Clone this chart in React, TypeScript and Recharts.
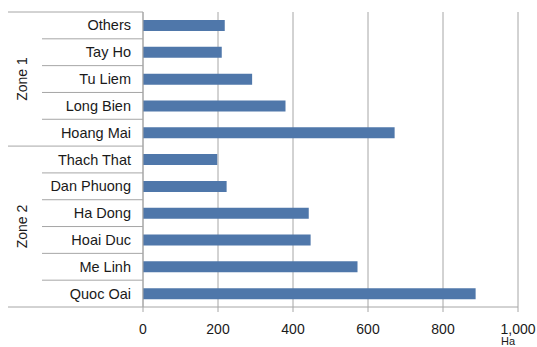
import { BarChart, Bar, XAxis, YAxis, CartesianGrid } from 'recharts'

const districts = [
  'Others', 'Tay Ho', 'Tu Liem', 'Long Bien', 'Hoang Mai',
  'Thach That', 'Dan Phuong', 'Ha Dong', 'Hoai Duc', 'Me Linh', 'Quoc Oai',
]
const areas = [218, 210, 291, 380, 671, 198, 223, 442, 447, 572, 887]
const zoneNames = ['Zone 1', 'Zone 2']
const zoneSizes = [5, 6]
const xTicks = [0, 200, 400, 600, 800, 1000]
const unitLabel = 'Ha'

const W = 537
const H = 347
const TOP = 12
const BOTTOM = 307
const AXIS_X = 143
const FONT = '"Liberation Sans", Arial, sans-serif'
const LINE = '#a6a6a6'
const BAND = (BOTTOM - TOP) / districts.length

const data = districts.map((name, i) => ({ name, area: areas[i] }))

// index of first row of each zone
const zoneStarts = zoneSizes.map((_, z) => zoneSizes.slice(0, z).reduce((a, b) => a + b, 0))

function CategoryTick(props: any) {
  const { y, payload } = props
  const idx = payload.index
  const top = y - BAND / 2
  const zi = zoneStarts.indexOf(idx)
  const isLast = idx === districts.length - 1
  return (
    <g>
      <line x1={zi >= 0 ? 8 : 42} x2={AXIS_X} y1={top} y2={top} stroke={LINE} strokeWidth={1} />
      {isLast && (
        <line x1={8} x2={AXIS_X} y1={top + BAND} y2={top + BAND} stroke={LINE} strokeWidth={1} />
      )}
      <text x={AXIS_X - 12} y={y} dy="0.35em" textAnchor="end" fontSize={14.5} fill="#1a1a1a" fontFamily={FONT}>
        {payload.value}
      </text>
      {zi >= 0 && (
        <text
          x={22}
          y={top + (zoneSizes[zi] * BAND) / 2}
          transform={`rotate(-90 22 ${top + (zoneSizes[zi] * BAND) / 2})`}
          dy="0.35em"
          textAnchor="middle"
          fontSize={14}
          fill="#1a1a1a"
          fontFamily={FONT}
        >
          {zoneNames[zi]}
        </text>
      )}
    </g>
  )
}

function ValueTick(props: any) {
  const { x, y, payload } = props
  const label = payload.value.toLocaleString('en-US')
  const isLast = payload.value === xTicks[xTicks.length - 1]
  return (
    <g>
      <text x={x} y={y} dy="0.71em" textAnchor="middle" fontSize={14} fill="#1a1a1a" fontFamily={FONT}>
        {label}
      </text>
      {isLast && (
        <text x={x - 17} y={y + 13} dy="0.71em" textAnchor="start" fontSize={11} fill="#1a1a1a" fontFamily={FONT}>
          {unitLabel}
        </text>
      )}
    </g>
  )
}

export default function App() {
  return (
    <div style={{ position: 'absolute', left: 0, top: 0, background: '#fff' }}>
      <BarChart
        width={W}
        height={H}
        data={data}
        layout="vertical"
        margin={{ top: TOP, right: W - 518, left: 0, bottom: 0 }}
      >
        <CartesianGrid horizontal={false} stroke={LINE} strokeWidth={1} />
        <XAxis
          xAxisId="top"
          orientation="top"
          type="number"
          domain={[0, 1000]}
          height={0}
          tick={false}
          tickLine={false}
          axisLine={{ stroke: LINE }}
        />
        <XAxis
          type="number"
          domain={[0, 1000]}
          ticks={xTicks}
          interval={0}
          height={H - BOTTOM}
          tickSize={5}
          tickMargin={12}
          tickLine={{ stroke: LINE }}
          axisLine={{ stroke: LINE }}
          tick={<ValueTick />}
        />
        <YAxis
          type="category"
          dataKey="name"
          width={AXIS_X}
          interval={0}
          tickLine={false}
          axisLine={{ stroke: LINE }}
          tick={<CategoryTick />}
        />
        <Bar dataKey="area" fill="#4f77aa" barSize={11} isAnimationActive={false} />
      </BarChart>
    </div>
  )
}
